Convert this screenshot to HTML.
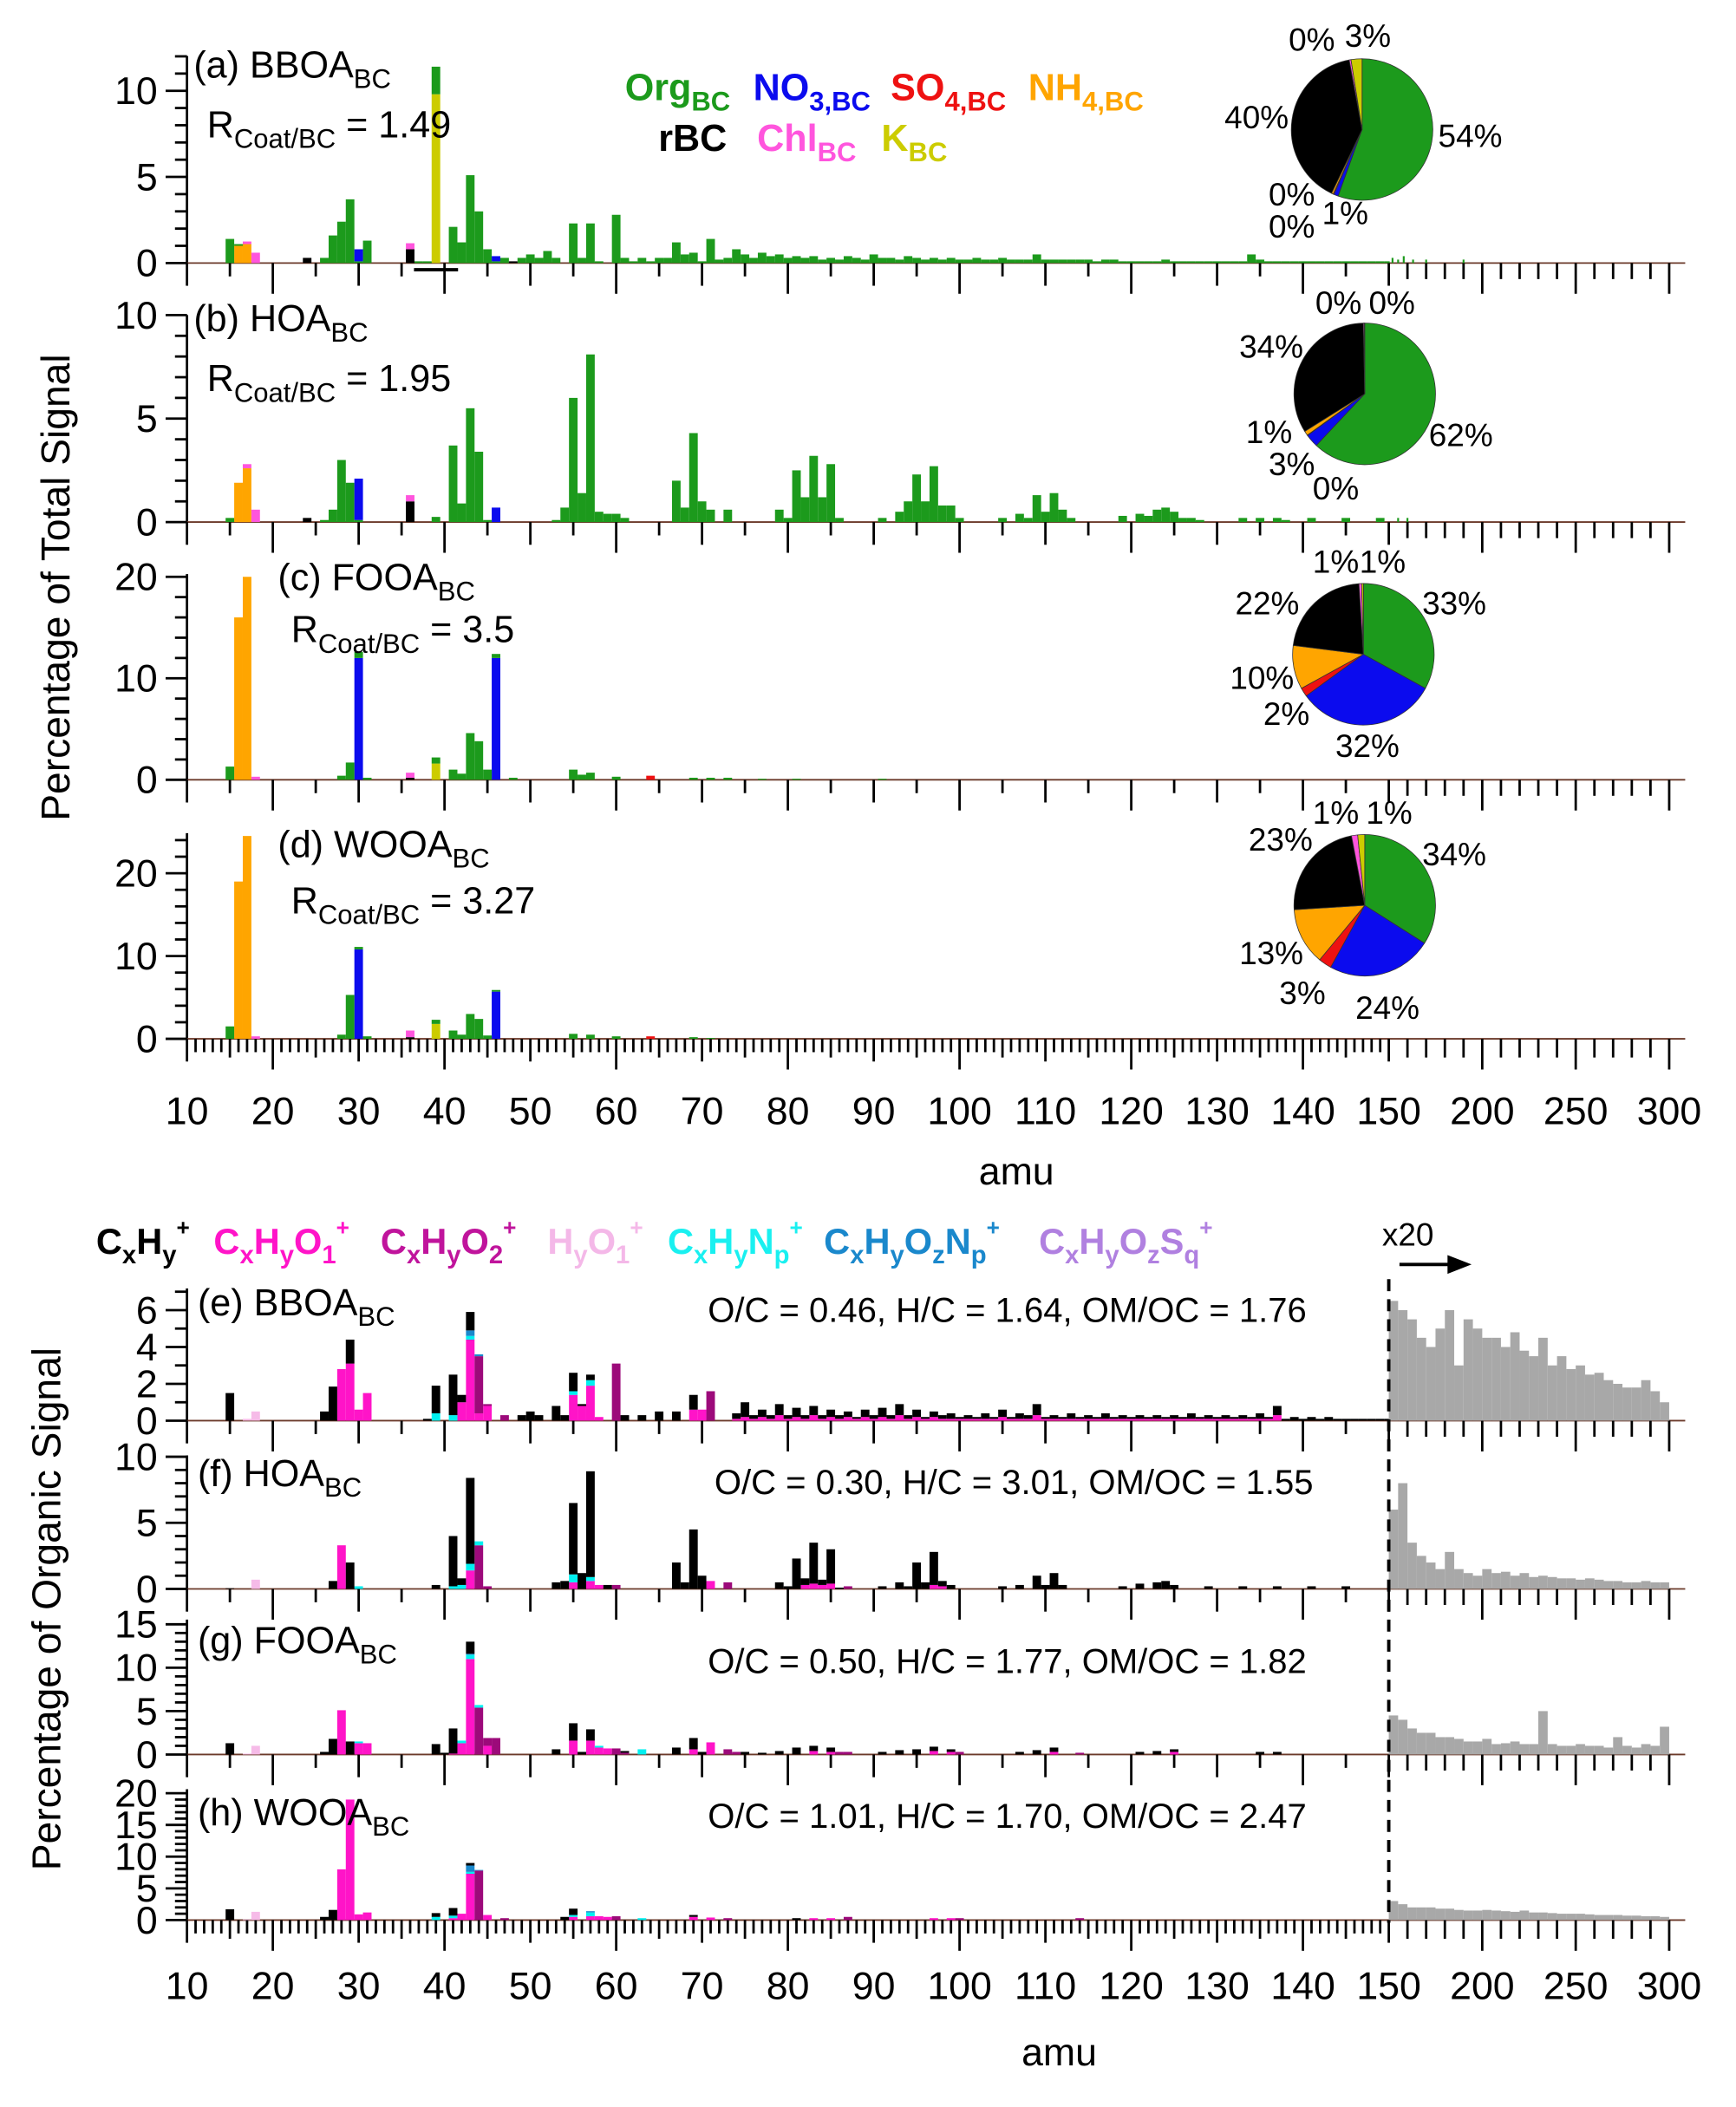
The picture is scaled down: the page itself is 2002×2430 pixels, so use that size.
<!DOCTYPE html>
<html><head><meta charset="utf-8">
<style>
html,body{margin:0;padding:0;background:#fff;}
svg{display:block;font-family:"Liberation Sans",Arial,sans-serif;}
</style></head>
<body>
<svg id="chart" xmlns="http://www.w3.org/2000/svg" width="2002" height="2430" viewBox="0 0 1300 1578"></svg>
<script>
// ---------- DATA: top panels (percentage of total signal) ----------
const aOrg=[[15,1.4],[16,0.1],[26,0.3],[27,1.6],[28,2.4],[29,3.7],[30,0.1],[31,1.3],[37,0.1],[38,0.1],[39,1.6],[41,2.1],[42,1.2],[43,5.1],[44,3.0],[45,0.8],[46,0.1],[47,0.3],[49,0.3],[50,0.5],[51,0.3],[52,0.7],[53,0.3],[55,2.3],[56,0.3],[57,2.3],[58,0.1],[60,2.8],[61,0.3],[62,0.1],[63,0.3],[64,0.1],[65,0.3],[66,0.3],[67,1.2],[68,0.5],[69,0.6],[70,0.1],[71,1.4],[152,0.3],[155,0.2],[158,0.4],[163,0.2],[170,0.2],[190,0.2]];
const aOrgTail=[0.2,0.3,0.8,0.5,0.3,0.6,0.4,0.5,0.3,0.4,0.3,0.4,0.2,0.3,0.2,0.4,0.3,0.2,0.5,0.3,0.3,0.2,0.4,0.3,0.2,0.3,0.2,0.3,0.2,0.2,0.3,0.2,0.2,0.3,0.2,0.2,0.2,0.5,0.2,0.2,0.2,0.2,0.2,0.2,0.1,0.2,0.2,0.1,0.1,0.1,0.1,0.1,0.2,0.1,0.1,0.1,0.1,0.1,0.1,0.1,0.1,0.1,0.5,0.2,0.1,0.1,0.1,0.1,0.1,0.1,0.1,0.1,0.1,0.1,0.1,0.1,0.1,0.1,0.1];
const aNO3=[[30,0.7],[46,0.3]];
const aSO4=[];
const aNH4=[[16,1.0],[17,1.1]];
const aBC=[[24,0.3],[36,0.8],[48,0.1]];
const aChl=[[17,0.15],[18,0.6],[36,0.35]];
const aK=[[39,9.8]];

const bOrg=[[15,0.2],[26,0.1],[27,0.6],[28,3.0],[29,1.9],[30,0.1],[39,0.25],[41,3.7],[42,0.9],[43,5.5],[44,3.4],[45,0.1],[53,0.1],[54,0.7],[55,6.0],[56,1.4],[57,8.1],[58,0.5],[59,0.4],[60,0.4],[61,0.2],[67,2.0],[68,0.7],[69,4.3],[70,1.0],[71,0.6],[73,0.6],[79,0.6],[80,0.2],[81,2.5],[82,1.2],[83,3.2],[84,1.2],[85,2.8],[86,0.2],[91,0.2],[93,0.5],[94,1.0],[95,2.3],[96,1.0],[97,2.7],[98,0.8],[99,0.8],[100,0.2],[105,0.2],[107,0.4],[108,0.2],[109,1.3],[110,0.5],[111,1.4],[112,0.6],[113,0.2],[119,0.3],[121,0.4],[122,0.3],[123,0.6],[124,0.7],[125,0.5],[126,0.2],[127,0.2],[128,0.1],[133,0.2],[135,0.2],[137,0.2],[138,0.1],[141,0.2],[145,0.2],[149,0.2],[155,0.2],[160,0.2]];
const bNO3=[[30,2.0],[46,0.7]];
const bSO4=[];
const bNH4=[[16,1.9],[17,2.6]];
const bBC=[[24,0.2],[36,1.0]];
const bChl=[[17,0.2],[18,0.6],[36,0.3]];
const bK=[];

const cOrg=[[15,1.3],[28,0.4],[29,1.7],[30,0.6],[31,0.2],[39,0.6],[41,1.0],[42,0.6],[43,4.6],[44,3.8],[45,1.0],[46,0.4],[48,0.2],[55,1.0],[56,0.5],[57,0.7],[60,0.3],[69,0.2],[71,0.2],[73,0.2],[77,0.1],[81,0.1],[91,0.1]];
const cNO3=[[30,12.0],[46,12.0]];
const cSO4=[[64,0.4]];
const cNH4=[[16,16.0],[17,20.0]];
const cBC=[[36,0.2]];
const cChl=[[36,0.5],[18,0.3]];
const cK=[[39,1.6]];

const dOrg=[[15,1.5],[28,0.5],[29,5.3],[30,0.3],[31,0.3],[39,0.5],[41,1.0],[42,0.5],[43,3.0],[44,2.4],[45,0.4],[46,0.2],[55,0.6],[57,0.5],[60,0.3],[69,0.2],[71,0.1]];
const dNO3=[[30,10.8],[46,5.7]];
const dSO4=[[64,0.3]];
const dNH4=[[16,19.0],[17,24.5]];
const dBC=[[36,0.2]];
const dChl=[[36,0.8],[18,0.3]];
const dK=[[39,1.8]];

// pie fractions (%): Org, NO3, SO4, NH4, rBC, Chl, K
const pieA=[55.5,1,0.2,0.4,40,0.4,2.5];
const pieB=[62,3,0.1,1,33.6,0.2,0.1];
const pieC=[33,32,2,10,22,0.6,0.4];
const pieD=[34,24,3,13,23,1.4,1.6];

// ---------- DATA: bottom panels (percentage of organic signal) ----------
const eCH=[[15,1.5],[26,0.5],[27,1.85],[29,1.3],[38,0.1],[39,1.5],[41,2.2],[42,0.4],[43,1.0],[49,0.3],[50,0.5],[51,0.3],[53,0.8],[54,0.3],[55,1.0],[56,0.1],[57,0.3],[61,0.3],[63,0.3],[65,0.5],[67,0.5],[69,0.8]];
const eO1=[[28,2.8],[29,3.1],[30,0.6],[31,1.5],[42,1.0],[43,4.4],[44,0.4],[45,0.8],[55,1.4],[56,0.8],[57,1.9],[58,0.2],[69,0.6],[70,0.6]];
const eO2=[[44,3.1],[45,0.1],[47,0.3],[60,3.1],[71,1.6]];
const eHO=[[17,0.1],[18,0.5]];
const eN=[[39,0.4],[41,0.3],[43,0.2],[55,0.2],[57,0.3]];
const eON=[[43,0.3],[44,0.1]];
const eCHt=[0.3,0.8,0.2,0.4,0.2,0.6,0.2,0.5,0.2,0.5,0.2,0.4,0.2,0.3,0.1,0.4,0.2,0.5,0.2,0.6,0.2,0.4,0.1,0.3,0.2,0.3,0.1,0.2,0.1,0.3,0.1,0.4,0.1,0.3,0.2,0.6,0.1,0.2,0.1,0.3,0.1,0.2,0.1,0.3,0.1,0.2,0.1,0.2,0.1,0.2,0.1,0.2,0.1,0.3,0.1,0.2,0.1,0.2,0.1,0.2,0.1,0.3,0.1,0.5,0.1,0.2,0.1,0.2,0.1,0.2,0.1,0.1,0.1,0.1,0.1,0.1,0.1];
const eO1t=[0.1,0.2,0.1,0.2,0.1,0.3,0.1,0.2,0.1,0.3,0.1,0.2,0.1,0.2,0.1,0.2,0.1,0.2,0.1,0.3,0.1,0.2,0.1,0.2,0.1,0.1,0.1,0.1,0.1,0.1,0.1,0.2,0.1,0.1,0.1,0.3,0.1,0.1,0.1,0.1,0.1,0.1,0.1,0.1,0.1,0.1,0.1,0.1,0.1,0.1,0.1,0.1,0.1,0.1,0.1,0.1,0.1,0.1,0.1,0.1,0.1,0.1,0.1,0.3];
const eGrey=[6.5,6.0,5.5,4.5,4.0,5.0,6.0,3.0,5.5,5.0,4.5,4.5,4.0,4.8,3.8,3.5,4.5,3.0,3.5,2.8,3.0,2.5,2.6,2.2,2.0,1.8,1.8,2.2,1.6,1.0];

const fCH=[[15,0.05],[27,0.6],[29,2.0],[39,0.3],[41,3.8],[42,0.5],[43,6.5],[53,0.5],[54,0.6],[55,5.4],[56,1.2],[57,8.0],[59,0.3],[67,2.0],[68,0.5],[69,4.5],[70,1.0],[79,0.5],[80,0.2],[81,2.3],[82,0.5],[83,3.1],[84,0.4],[85,2.6],[86,0.1],[91,0.2],[93,0.5],[94,0.2],[95,2.0],[96,0.5],[97,2.5],[98,0.4],[99,0.3],[105,0.2],[107,0.3],[109,1.0],[110,0.3],[111,1.2],[112,0.3],[119,0.2],[121,0.4],[123,0.5],[124,0.6],[125,0.3],[129,0.2],[133,0.2],[137,0.2],[141,0.2],[145,0.2]];
const fO1=[[28,3.3],[43,1.4],[55,0.5],[57,0.6],[58,0.3],[71,0.6],[82,0.3],[83,0.4],[84,0.3],[85,0.4],[97,0.3],[98,0.2]];
const fO2=[[44,3.3],[45,0.2],[60,0.3],[73,0.5],[87,0.2]];
const fHO=[[18,0.7]];
const fN=[[30,0.2],[41,0.2],[42,0.3],[43,0.5],[44,0.3],[55,0.6],[57,0.3]];
const fON=[];
const fGrey=[6.0,8.0,3.5,2.5,2.0,1.5,2.8,1.5,1.2,1.0,1.5,1.2,1.3,1.0,1.2,0.9,1.0,0.9,0.8,0.8,0.7,0.8,0.7,0.6,0.6,0.5,0.5,0.6,0.5,0.5];

const gCH=[[15,1.3],[26,0.3],[27,1.8],[29,1.5],[39,1.2],[40,0.2],[41,2.9],[43,1.4],[53,0.6],[55,2.0],[56,0.3],[57,1.3],[61,0.2],[67,0.8],[69,1.3],[70,0.3],[75,0.3],[77,0.2],[79,0.4],[81,0.8],[83,0.6],[85,0.5],[91,0.3],[93,0.5],[95,0.6],[97,0.5],[99,0.3],[107,0.3],[109,0.5],[111,0.5],[121,0.3],[123,0.4],[125,0.3],[135,0.3],[137,0.3]];
const gO1=[[28,5.1],[30,1.3],[31,1.3],[41,0.1],[42,1.3],[43,11.0],[45,1.0],[55,1.6],[57,1.6],[58,0.8],[59,0.7],[69,0.6],[71,1.4],[83,0.4],[85,0.3],[97,0.4],[99,0.3],[111,0.3],[125,0.3]];
const gO2=[[44,5.4],[45,0.9],[46,1.9],[60,0.7],[61,0.2],[73,0.6],[74,0.3],[86,0.3],[87,0.3],[100,0.3],[114,0.2]];
const gHO=[[17,0.1],[18,1.0]];
const gN=[[30,0.2],[42,0.3],[43,0.5],[44,0.3],[58,0.2],[63,0.6]];
const gON=[[43,0.1]];
const gGrey=[4.5,4.0,3.0,2.5,2.5,2.0,2.0,1.8,1.5,1.5,1.8,1.2,1.3,1.5,1.2,1.2,5.0,1.2,1.0,1.0,1.2,1.0,1.0,0.8,2.0,1.0,0.8,1.2,1.0,3.2];

const hCH=[[15,1.7],[26,0.5],[27,1.6],[39,0.6],[41,1.2],[43,0.4],[54,0.5],[55,1.0],[69,0.3],[81,0.3]];
const hO1=[[28,8.0],[29,19.0],[30,0.9],[31,1.2],[41,0.3],[42,1.0],[43,7.3],[45,0.8],[55,0.5],[57,0.6],[58,0.6],[59,0.5],[69,0.5],[71,0.4],[83,0.3],[85,0.3],[97,0.3],[99,0.3]];
const hO2=[[44,7.8],[47,0.3],[60,0.6],[73,0.3],[87,0.5],[100,0.3],[114,0.3]];
const hHO=[[17,0.1],[18,1.3]];
const hN=[[39,0.5],[41,0.4],[43,0.3],[55,0.3],[57,0.6],[63,0.3]];
const hON=[[43,1.0],[44,0.1],[57,0.2]];
const hGrey=[3.0,2.5,2.0,2.0,2.0,1.8,1.8,1.6,1.5,1.5,1.6,1.5,1.4,1.3,1.5,1.2,1.2,1.1,1.0,1.0,1.0,0.9,0.8,0.8,0.8,0.7,0.7,0.6,0.6,0.5];

const xTickLabels=[10,20,30,40,50,60,70,80,90,100,110,120,130,140,150,200,250,300];

// ---------- helpers ----------
const NS='http://www.w3.org/2000/svg';
const svg=document.getElementById('chart');
function mk(tag,attrs,parent){const e=document.createElementNS(NS,tag);for(const k in attrs)e.setAttribute(k,attrs[k]);(parent||svg).appendChild(e);return e;}
function xA(m){return m<=150?140+(m-10)*6.4286:1040+(m-150)*1.4;}
function tailPairs(start,arr){return arr.map((v,i)=>[start+i,v]);}

const C={org:'#1c9a1c',no3:'#0b0bee',so4:'#ee1111',nh4:'#ffa500',bc:'#000000',chl:'#ff55dd',k:'#cccc00',
 ch:'#000000',o1:'#ff14c8',o2:'#9c0a7a',ho:'#f6bbe8',n:'#00f0f0',on:'#1a88cc',grey:'#a8a8a8'};

function panelY(p,v){return p.y0-v*p.ppu;}

function drawStack(p,layers,name){
  const g=mk('g',{});
  
  
  const acc={};
  layers.forEach(L=>{
    L.pairs.forEach(([m,v])=>{
      const base=acc[m]||0;
      const x0=xA(m-0.5),x1=xA(m+0.5);
      const r=mk('rect',{x:x0,y:panelY(p,base+v),width:Math.max(x1-x0,0.8),height:v*p.ppu,fill:L.color},g);
      
      
      acc[m]=base+v;
    });
  });
}
function drawGrey(p,arr,name){
  const g=mk('g',{});
  
  
  arr.forEach((v,i)=>{
    const m0=150+i*5,m1=m0+5;
    const r=mk('rect',{x:xA(m0),y:panelY(p,v),width:xA(m1)-xA(m0),height:v*p.ppu,fill:C.grey},g);
    
    
  });
}
function drawAxes(p,majors,minorStep,dense,name){
  const g=mk('g',{stroke:'#000','stroke-width':1.8,fill:'none'});
  
  
  mk('line',{x1:140,y1:p.y0,x2:140,y2:p.top},g);
  mk('line',{x1:140,y1:p.y0,x2:1262,y2:p.y0,'stroke-width':1.2,stroke:'#6b3a2a'},g);
  for(let v=0;panelY(p,v)>=p.top-0.5;v+=minorStep){
    const isMaj=majors.some(mj=>Math.abs(mj-v)<1e-6);
    mk('line',{x1:isMaj?124:131,y1:panelY(p,v),x2:140,y2:panelY(p,v)},g);
  }
  majors.forEach(v=>{
    const t=mk('text',{x:118,y:panelY(p,v)+10,'text-anchor':'end','font-size':29,fill:'#000',stroke:'none'});
    t.textContent=v;
    
    
  });
  for(let m=10;m<=150;m+=dense?1:5){
    let L=dense?10:10;
    if(m%5===0)L=dense?14:10;
    if(m%10===0)L=17;
    if(m%20===0)L=23;
    mk('line',{x1:xA(m),y1:p.y0,x2:xA(m),y2:p.y0+L},g);
  }
  for(let m=160;m<=300;m+=10){
    const L=(m%50===0)?23:(dense?14:12);
    mk('line',{x1:xA(m),y1:p.y0,x2:xA(m),y2:p.y0+L},g);
  }
}
function txt(x,y,size,parts,name,fill,weight){
  const t=mk('text',{x:x,y:y,'font-size':size,fill:fill||'#000','font-weight':weight||'normal'});
  
  
  parts.forEach(pt=>{
    const s=mk('tspan',{},t);
    if(pt.sub){s.setAttribute('font-size',size*0.72);s.setAttribute('dy',size*0.28);}
    if(pt.sup){s.setAttribute('font-size',size*0.6);s.setAttribute('dy',-size*0.5);}
    if(pt.back){s.setAttribute('dy',pt.back);}
    if(pt.fill)s.setAttribute('fill',pt.fill);
    s.textContent=pt.t;
  });
  return t;
}
function xLabels(y,name){
  xTickLabels.forEach(v=>{
    const t=mk('text',{x:xA(v),y:y,'text-anchor':'middle','font-size':29});
    t.textContent=v;
    
    
  });
}
function drawPie(cx,cy,r,vals,name){
  const cols=[C.org,C.no3,C.so4,C.nh4,C.bc,C.chl,C.k];
  const keys=['org','no3','so4','nh4','rbc','chl','k'];
  const tot=vals.reduce((a,b)=>a+b,0);
  let a=-Math.PI/2;
  const g=mk('g',{});
  
  
  vals.forEach((v,i)=>{
    const da=v/tot*2*Math.PI; const a2=a+da;
    const large=da>Math.PI?1:0;
    const d=`M${cx},${cy} L${cx+r*Math.cos(a)},${cy+r*Math.sin(a)} A${r},${r} 0 ${large} 1 ${cx+r*Math.cos(a2)},${cy+r*Math.sin(a2)} Z`;
    const p=mk('path',{d:d,fill:cols[i],stroke:'#333','stroke-width':0.5},g);
    
    
    a=a2;
  });
}
function pieLabels(list,name){
  list.forEach(([x,y,s],i)=>txt(x,y,24,[{t:s}],name+'-label-'+i));
}

// ---------- top panels ----------
const PA={y0:197,ppu:12.9,top:42};
const PB={y0:391,ppu:15.5,top:236};
const PC={y0:584,ppu:7.6,top:430};
const PD={y0:778,ppu:6.2,top:624};
function topLayers(org,tail,tailStart,no3,so4,nh4,bc,chl,k){
  return [{key:'nh4',color:C.nh4,pairs:nh4},{key:'org',color:C.org,pairs:org.concat(tail?tailPairs(tailStart,tail):[])},
    {key:'no3',color:C.no3,pairs:no3},{key:'so4',color:C.so4,pairs:so4},{key:'rbc',color:C.bc,pairs:bc},
    {key:'chl',color:C.chl,pairs:chl},{key:'k',color:C.k,pairs:k}];
}
drawAxes(PA,[0,5,10],1,false,'panel-a');
drawAxes(PB,[0,5,10],1,false,'panel-b');
drawAxes(PC,[0,10,20],2,false,'panel-c');
drawAxes(PD,[0,10,20],2,true,'panel-d');
// reorder: K bar at 39 is under org in (a)
drawStack(PA,[{key:'nh4',color:C.nh4,pairs:aNH4},{key:'k',color:C.k,pairs:aK},{key:'org',color:C.org,pairs:aOrg.concat(tailPairs(72,aOrgTail))},{key:'no3',color:C.no3,pairs:aNO3},{key:'so4',color:C.so4,pairs:aSO4},{key:'rbc',color:C.bc,pairs:aBC},{key:'chl',color:C.chl,pairs:aChl}],'panel-a');
drawStack(PB,topLayers(bOrg,null,0,bNO3,bSO4,bNH4,bBC,bChl,bK),'panel-b');
drawStack(PC,[{key:'nh4',color:C.nh4,pairs:cNH4},{key:'k',color:C.k,pairs:cK},{key:'no3',color:C.no3,pairs:cNO3},{key:'org',color:C.org,pairs:cOrg},{key:'so4',color:C.so4,pairs:cSO4},{key:'rbc',color:C.bc,pairs:cBC},{key:'chl',color:C.chl,pairs:cChl}],'panel-c');
drawStack(PD,[{key:'nh4',color:C.nh4,pairs:dNH4},{key:'k',color:C.k,pairs:dK},{key:'no3',color:C.no3,pairs:dNO3},{key:'org',color:C.org,pairs:dOrg},{key:'so4',color:C.so4,pairs:dSO4},{key:'rbc',color:C.bc,pairs:dBC},{key:'chl',color:C.chl,pairs:dChl}],'panel-d');
// error bar under 39 in (a)
mk('line',{x1:310,y1:202,x2:343,y2:202,stroke:'#000','stroke-width':2.5});
xLabels(842,'top');
txt(733,887,29,[{t:'amu'}],'top-x-axis-title');
const yt1=txt(0,0,30,[{t:'Percentage of Total Signal'}],'top-y-axis-title');
yt1.setAttribute('transform','translate(52,440) rotate(-90)');yt1.setAttribute('text-anchor','middle');

txt(145,58,28,[{t:'(a) BBOA'},{t:'BC',sub:true}],'panel-a-title');
txt(155,103,28,[{t:'R'},{t:'Coat/BC',sub:true},{t:' = 1.49',back:-7.8}],'panel-a-ratio');
txt(145,248,28,[{t:'(b) HOA'},{t:'BC',sub:true}],'panel-b-title');
txt(155,293,28,[{t:'R'},{t:'Coat/BC',sub:true},{t:' = 1.95',back:-7.8}],'panel-b-ratio');
txt(208,442,28,[{t:'(c) FOOA'},{t:'BC',sub:true}],'panel-c-title');
txt(218,481,28,[{t:'R'},{t:'Coat/BC',sub:true},{t:' = 3.5',back:-7.8}],'panel-c-ratio');
txt(208,642,28,[{t:'(d) WOOA'},{t:'BC',sub:true}],'panel-d-title');
txt(218,684,28,[{t:'R'},{t:'Coat/BC',sub:true},{t:' = 3.27',back:-7.8}],'panel-d-ratio');

// legend top
txt(468,75,28,[{t:'Org'},{t:'BC',sub:true}],'legend-org',C.org,'bold');
txt(564,75,28,[{t:'NO'},{t:'3,BC',sub:true}],'legend-no3',C.no3,'bold');
txt(667,75,28,[{t:'SO'},{t:'4,BC',sub:true}],'legend-so4',C.so4,'bold');
txt(770,75,28,[{t:'NH'},{t:'4,BC',sub:true}],'legend-nh4',C.nh4,'bold');
txt(493,113,28,[{t:'rBC'}],'legend-rbc','#000','bold');
txt(567,113,28,[{t:'Chl'},{t:'BC',sub:true}],'legend-chl',C.chl,'bold');
txt(660,113,28,[{t:'K'},{t:'BC',sub:true}],'legend-k',C.k,'bold');

drawPie(1020,97,53,pieA,'pie-a');
drawPie(1022,295,53,pieB,'pie-b');
drawPie(1021,490,53,pieC,'pie-c');
drawPie(1022,678,53,pieD,'pie-d');
pieLabels([[965,38,'0%'],[1007,35,'3%'],[917,96,'40%'],[1077,110,'54%'],[950,154,'0%'],[990,168,'1%'],[950,178,'0%']],'pie-a');
pieLabels([[985,235,'0%'],[1025,235,'0%'],[928,268,'34%'],[933,332,'1%'],[1070,334,'62%'],[950,356,'3%'],[983,374,'0%']],'pie-b');
pieLabels([[983,429,'1%'],[1018,429,'1%'],[925,460,'22%'],[1065,460,'33%'],[921,516,'10%'],[946,543,'2%'],[1000,567,'32%']],'pie-c');
pieLabels([[983,617,'1%'],[1023,617,'1%'],[935,637,'23%'],[1065,648,'34%'],[928,722,'13%'],[958,752,'3%'],[1015,763,'24%']],'pie-d');

// ---------- bottom panels ----------
const PE={y0:1064,ppu:13.8,top:965};
const PF={y0:1190,ppu:9.9,top:1090};
const PG={y0:1314,ppu:6.5,top:1213};
const PH={y0:1438,ppu:4.75,top:1340};
function botLayers(o1,o2,ho,n,on,ch){
  return [{key:'cxhyo1',color:C.o1,pairs:o1},{key:'cxhyo2',color:C.o2,pairs:o2},{key:'hyo1',color:C.ho,pairs:ho},
    {key:'cxhynp',color:C.n,pairs:n},{key:'cxhyoznp',color:C.on,pairs:on},{key:'cxhy',color:C.ch,pairs:ch}];
}
drawAxes(PE,[0,2,4,6],1,false,'panel-e');
drawAxes(PF,[0,5,10],1,false,'panel-f');
drawAxes(PG,[0,5,10,15],1,false,'panel-g');
drawAxes(PH,[0,5,10,15,20],1,true,'panel-h');
drawStack(PE,botLayers(eO1.concat(tailPairs(74,eO1t)),eO2,eHO,eN,eON,eCH.concat(tailPairs(74,eCHt))),'panel-e');
drawStack(PF,botLayers(fO1,fO2,fHO,fN,fON,fCH),'panel-f');
drawStack(PG,botLayers(gO1,gO2,gHO,gN,gON,gCH),'panel-g');
drawStack(PH,botLayers(hO1,hO2,hHO,hN,hON,hCH),'panel-h');
drawGrey(PE,eGrey,'panel-e');
drawGrey(PF,fGrey,'panel-f');
drawGrey(PG,gGrey,'panel-g');
drawGrey(PH,hGrey,'panel-h');
const dl=mk('line',{x1:1040,y1:958,x2:1040,y2:1440,stroke:'#000','stroke-width':2.5,'stroke-dasharray':'9,6'});

txt(1035,933,24,[{t:'x20'}],'x20-label');
mk('line',{x1:1048,y1:947,x2:1088,y2:947,stroke:'#000','stroke-width':2.5});
mk('path',{d:'M1084,940 L1102,947 L1084,954 Z',fill:'#000'});
xLabels(1497,'bottom');
txt(765,1547,29,[{t:'amu'}],'bottom-x-axis-title');
const yt2=txt(0,0,30,[{t:'Percentage of Organic Signal'}],'bottom-y-axis-title');
yt2.setAttribute('transform','translate(45,1205) rotate(-90)');yt2.setAttribute('text-anchor','middle');

txt(148,985,28,[{t:'(e) BBOA'},{t:'BC',sub:true}],'panel-e-title');
txt(530,990,26,[{t:'O/C = 0.46, H/C = 1.64, OM/OC = 1.76'}],'panel-e-ratios');
txt(148,1113,28,[{t:'(f) HOA'},{t:'BC',sub:true}],'panel-f-title');
txt(535,1119,26,[{t:'O/C = 0.30, H/C = 3.01, OM/OC = 1.55'}],'panel-f-ratios');
txt(148,1238,28,[{t:'(g) FOOA'},{t:'BC',sub:true}],'panel-g-title');
txt(530,1253,26,[{t:'O/C = 0.50, H/C = 1.77, OM/OC = 1.82'}],'panel-g-ratios');
txt(148,1367,28,[{t:'(h) WOOA'},{t:'BC',sub:true}],'panel-h-title');
txt(530,1369,26,[{t:'O/C = 1.01, H/C = 1.70, OM/OC = 2.47'}],'panel-h-ratios');

// bottom legend
function ion(x,parts,col,name){
  const t=txt(x,939,27,[],name,col,'bold');
  parts.forEach(pt=>{
    const s=mk('tspan',{},t);
    if(pt.s){s.setAttribute('font-size',19);s.setAttribute('dy',7);}
    else if(pt.p){s.setAttribute('font-size',17);s.setAttribute('dy',-21);}
    else if(pt.u){s.setAttribute('dy',pt.u);}
    s.textContent=pt.t;
  });
}
ion(72,[{t:'C'},{t:'x',s:1},{t:'H',u:-7},{t:'y',s:1},{t:'+',p:1}],C.ch,'legend-cxhy');
ion(160,[{t:'C'},{t:'x',s:1},{t:'H',u:-7},{t:'y',s:1},{t:'O',u:-7},{t:'1',s:1},{t:'+',p:1}],C.o1,'legend-cxhyo1');
ion(285,[{t:'C'},{t:'x',s:1},{t:'H',u:-7},{t:'y',s:1},{t:'O',u:-7},{t:'2',s:1},{t:'+',p:1}],'#c0149c','legend-cxhyo2');
ion(410,[{t:'H'},{t:'y',s:1},{t:'O',u:-7},{t:'1',s:1},{t:'+',p:1}],'#f4b8e8','legend-hyo1');
ion(500,[{t:'C'},{t:'x',s:1},{t:'H',u:-7},{t:'y',s:1},{t:'N',u:-7},{t:'p',s:1},{t:'+',p:1}],'#19f0f0','legend-cxhynp');
ion(617,[{t:'C'},{t:'x',s:1},{t:'H',u:-7},{t:'y',s:1},{t:'O',u:-7},{t:'z',s:1},{t:'N',u:-7},{t:'p',s:1},{t:'+',p:1}],'#1a88cc','legend-cxhyoznp');
ion(778,[{t:'C'},{t:'x',s:1},{t:'H',u:-7},{t:'y',s:1},{t:'O',u:-7},{t:'z',s:1},{t:'S',u:-7},{t:'q',s:1},{t:'+',p:1}],'#b080e0','legend-cxhyozsq');
</script>
</body></html>
